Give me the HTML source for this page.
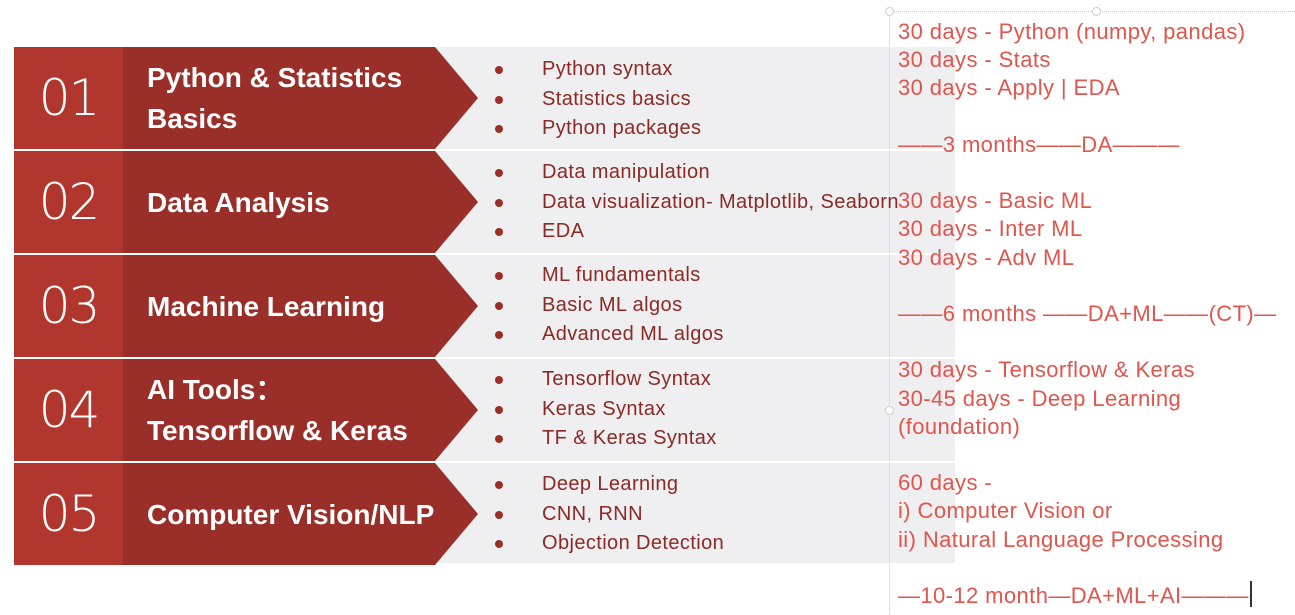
<!DOCTYPE html>
<html><head><meta charset="utf-8"><style>
body{margin:0;width:1295px;height:615px;background:#fff;position:relative;overflow:hidden;font-family:"Liberation Sans",sans-serif}
.gray{position:absolute;left:435px;top:47px;width:520px;height:516px;background:#efeef0}
.row{position:absolute;left:14px;height:102px}
.num{position:absolute;left:0;top:0;width:109px;height:100%;background:#b1372e;color:#fff;font-size:50px;display:flex;align-items:center;justify-content:center;font-family:"DejaVu Sans","Liberation Sans",sans-serif;font-weight:200;letter-spacing:-2px}
.title{position:absolute;left:109px;top:0;height:100%;width:355px;background:#9a2f29;clip-path:polygon(0 0,312px 0,355px 50%,312px 100%,0 100%);color:#fff;font-weight:bold;font-size:28px;display:flex;align-items:center;padding-left:24px;box-sizing:border-box;line-height:41px}
.bl{position:absolute;left:495px;color:#8a2a25;font-size:20px;letter-spacing:0.4px;line-height:29.5px;white-space:nowrap}
.bl div{position:relative;padding-left:47px}
.bl div:before{content:"";position:absolute;left:0;top:11px;width:8px;height:8px;border-radius:50%;background:#9a2f29}
.sep{position:absolute;left:435px;width:520px;height:2px;background:#fff}
.rt{position:absolute;left:898px;top:18px;color:#e0554c;font-size:22px;letter-spacing:0.4px;line-height:28.2px;white-space:pre}
</style></head><body>
<div class="gray"></div>
<div class="sep" style="top:149px"></div><div class="sep" style="top:253px"></div><div class="sep" style="top:357px"></div><div class="sep" style="top:461px"></div>
<div style="position:absolute;left:889px;top:11px;width:406px;border-top:1px dotted #c8ccd4"></div>
<div style="position:absolute;left:889px;top:11px;height:604px;border-left:1px dotted #c8ccd4"></div>
<div style="position:absolute;left:885px;top:7px;width:7px;height:7px;border:1px solid #c8ccd4;border-radius:50%;background:#fff"></div>
<div style="position:absolute;left:1092px;top:7px;width:7px;height:7px;border:1px solid #c8ccd4;border-radius:50%;background:#fff"></div>
<div style="position:absolute;left:885px;top:406px;width:7px;height:7px;border:1px solid #c8ccd4;border-radius:50%;background:#fff"></div>

<div class="row" style="top:47px"><div class="num">01</div><div class="title">Python &amp; Statistics<br>Basics</div></div>
<div class="row" style="top:151px"><div class="num">02</div><div class="title">Data Analysis</div></div>
<div class="row" style="top:255px"><div class="num">03</div><div class="title">Machine Learning</div></div>
<div class="row" style="top:359px"><div class="num">04</div><div class="title">AI Tools：<br>Tensorflow &amp; Keras</div></div>
<div class="row" style="top:463px"><div class="num">05</div><div class="title">Computer Vision/NLP</div></div>

<div class="bl" style="top:55px"><div>Python syntax</div><div>Statistics basics</div><div>Python packages</div></div>
<div class="bl" style="top:158px"><div>Data manipulation</div><div>Data visualization- Matplotlib, Seaborn</div><div>EDA</div></div>
<div class="bl" style="top:261px"><div>ML fundamentals</div><div>Basic ML algos</div><div>Advanced ML algos</div></div>
<div class="bl" style="top:365px"><div>Tensorflow Syntax</div><div>Keras Syntax</div><div>TF &amp; Keras Syntax</div></div>
<div class="bl" style="top:470px"><div>Deep Learning</div><div>CNN, RNN</div><div>Objection Detection</div></div>

<div class="rt">30 days - Python (numpy, pandas)
30 days - Stats
30 days - Apply | EDA

——3 months——DA———

30 days - Basic ML
30 days - Inter ML
30 days - Adv ML

——6 months ——DA+ML——(CT)—

30 days - Tensorflow &amp; Keras
30-45 days - Deep Learning
(foundation)

60 days -
i) Computer Vision or
ii) Natural Language Processing

—10-12 month—DA+ML+AI———</div>
<div style="position:absolute;left:1250px;top:581px;width:2px;height:26px;background:#333"></div>
</body></html>
